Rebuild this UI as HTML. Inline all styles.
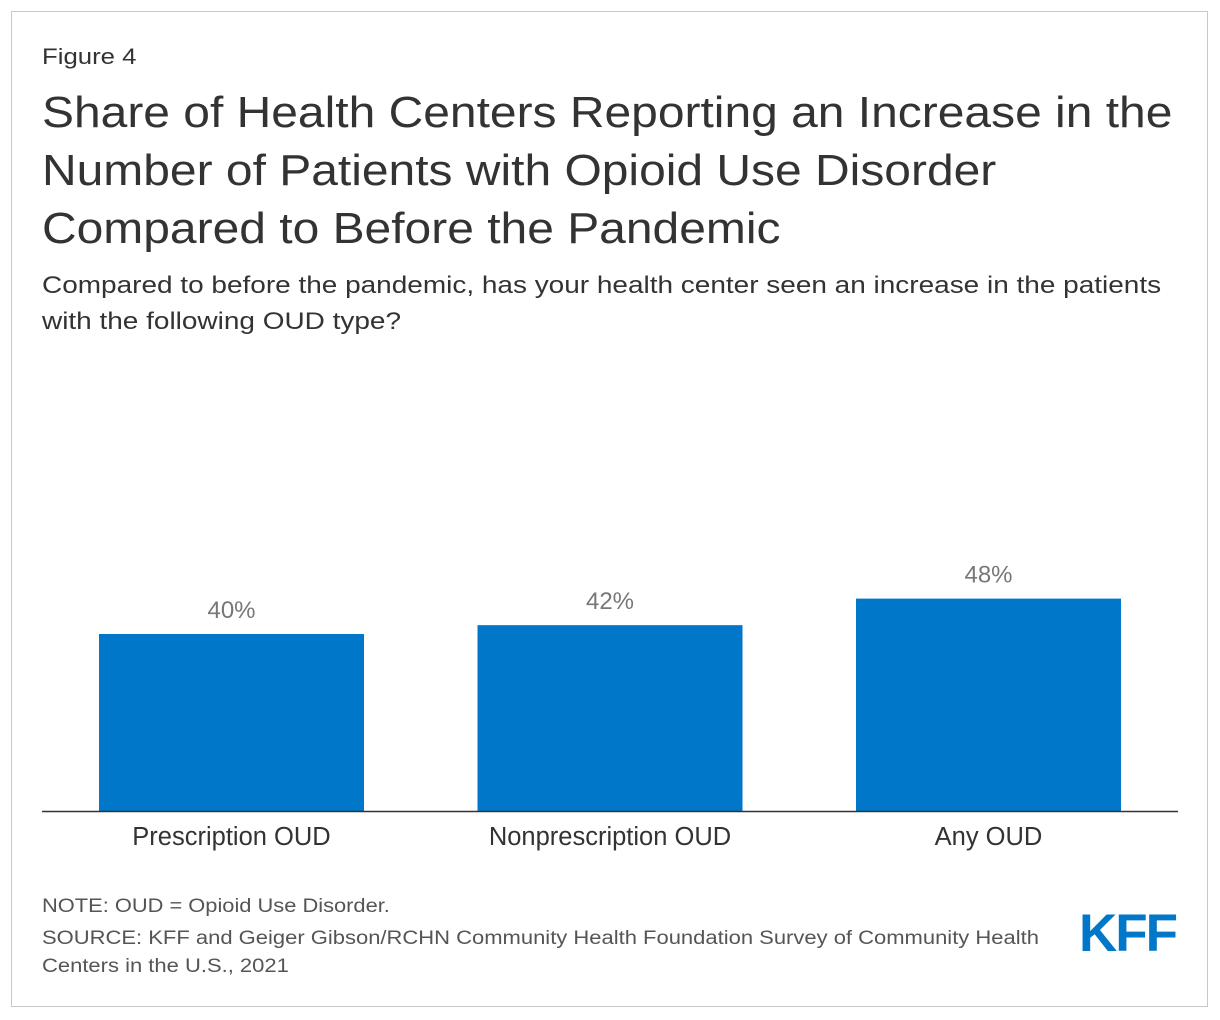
<!DOCTYPE html>
<html><head><meta charset="utf-8"><style>
body{margin:0;width:1220px;height:1020px;background:#fff;font-family:"Liberation Sans",sans-serif;position:relative;overflow:hidden}
.frame{position:absolute;left:11px;top:11px;width:1197px;height:996px;border:1px solid #c8c8c8;box-sizing:border-box}
.t{position:absolute;left:42px;color:#333;white-space:nowrap;transform-origin:left top}
</style></head><body>
<div class="frame"></div>
<div class="t" style="top:44px;font-size:22px;transform:scaleX(1.17)">Figure 4</div>
<div class="t" style="top:84px;font-size:44px;line-height:58px;transform:scaleX(1.09)">Share of Health Centers Reporting an Increase in the<br>Number of Patients with Opioid Use Disorder<br>Compared to Before the Pandemic</div>
<div class="t" style="top:268px;font-size:24px;line-height:36px;transform:scaleX(1.165)">Compared to before the pandemic, has your health center seen an increase in the patients<br>with the following OUD type?</div>
<svg id="chart" width="1220" height="1020" style="position:absolute;left:0;top:0"></svg>
<div class="t" style="top:896px;font-size:19px;color:#555;transform:scaleX(1.15)">NOTE: OUD = Opioid Use Disorder.</div>
<div class="t" style="top:925px;font-size:19px;line-height:28px;color:#555;transform:scaleX(1.157)">SOURCE: KFF and Geiger Gibson/RCHN Community Health Foundation Survey of Community Health<br>Centers in the U.S., 2021</div>
<div style="position:absolute;left:1079px;top:903px;font-size:53px;font-weight:bold;color:#0077c8;letter-spacing:-2px">KFF</div>
<script>
const categories=["Prescription OUD","Nonprescription OUD","Any OUD"];
const values=[40,42,48];
const svg=document.getElementById('chart');
const NS='http://www.w3.org/2000/svg';
const base=811,scale=4.425,left=99,step=378.5,bw=265;
const y=v=>base-v*scale;
const x=i=>left+i*step;
categories.forEach((c,i)=>{
 const r=document.createElementNS(NS,'rect');
 r.setAttribute('x',x(i));r.setAttribute('y',y(values[i]));r.setAttribute('width',bw);r.setAttribute('height',base-y(values[i]));r.setAttribute('fill','#0077c8');
 
 
 svg.appendChild(r);
 const t=document.createElementNS(NS,'text');
 t.setAttribute('x',x(i)+bw/2);t.setAttribute('y',y(values[i])-16);t.setAttribute('text-anchor','middle');t.setAttribute('font-size','24');t.setAttribute('fill','#777');t.setAttribute('font-family','Liberation Sans');
 t.textContent=values[i]+'%';
 
 
 svg.appendChild(t);
 const l=document.createElementNS(NS,'text');
 l.setAttribute('x',x(i)+bw/2);l.setAttribute('y',845);l.setAttribute('text-anchor','middle');l.setAttribute('font-size','25.5');l.setAttribute('fill','#333');l.setAttribute('font-family','Liberation Sans');
 l.textContent=c;
 
 
 svg.appendChild(l);
});
const ax=document.createElementNS(NS,'line');
ax.setAttribute('x1',42);ax.setAttribute('x2',1178);ax.setAttribute('y1',base+0.5);ax.setAttribute('y2',base+0.5);ax.setAttribute('stroke','#333');ax.setAttribute('stroke-width','1.5');


svg.appendChild(ax);
</script>
</body></html>
